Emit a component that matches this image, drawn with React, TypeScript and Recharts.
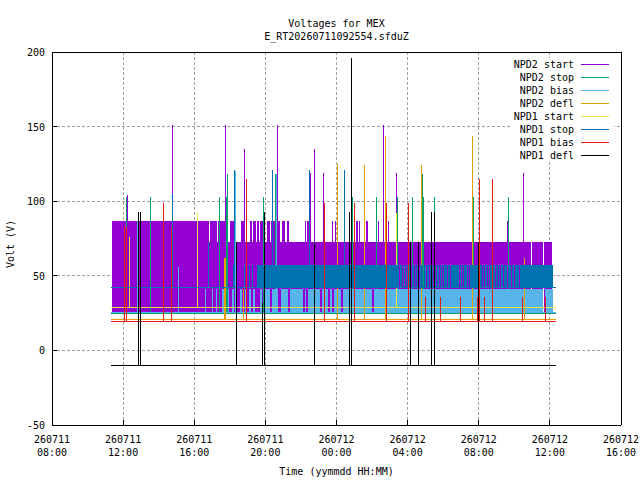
import React from "react";
import { ComposedChart, Area, XAxis, YAxis, CartesianGrid } from "recharts";

const FONT = "'DejaVu Sans Mono', 'Liberation Mono', monospace";

// time axis in hours counted from 260711 00:00
const X_TICKS = [8, 12, 16, 20, 24, 28, 32, 36, 40];
const X_TICK_DAYS = ["260711", "260711", "260711", "260711", "260712", "260712", "260712", "260712", "260712"];
const X_TICK_TIMES = ["08:00", "12:00", "16:00", "20:00", "00:00", "04:00", "08:00", "12:00", "16:00"];
const Y_TICKS = [-50, 0, 50, 100, 150, 200];

const SERIES_NAMES = ["NPD2 start", "NPD2 stop", "NPD2 bias", "NPD2 defl", "NPD1 start", "NPD1 stop", "NPD1 bias", "NPD1 defl"];
const SERIES_COLORS = ["#9400d3", "#009e73", "#56b4e9", "#e69f00", "#f0e442", "#0072b2", "#e51e10", "#000000"];

const T_START = 11.31;
const T_END = 36.34;

// NPD2 start: dense switching between 25 V and 87 / 72.5 V
const NPD2_START_BASE = 25;
const NPD2_START_HIGH = 87;
const NPD2_START_HIGH_RUNS = [
  [11.4, 16.82], [16.88, 17.27], [17.32, 17.83], [18.01, 18.34], [18.62, 18.84], [19.12, 19.24],
  [19.29, 19.46], [19.52, 19.63], [19.69, 19.86], [20.08, 20.25], [20.3, 20.81], [20.92, 21.09],
  [21.21, 21.32], [22.22, 22.28], [22.33, 22.44], [23.74, 23.79], [23.9, 23.96], [25.09, 25.2],
  [25.26, 25.31], [25.65, 25.76], [26.32, 26.38], [26.89, 26.94], [27.34, 27.39],
];
const NPD2_START_MID = 72.5;
const NPD2_START_MID_RUNS = [[16.76, 34.93], [34.99, 35.6], [35.66, 36.11]];
const NPD2_START_SPIKES = [
  [12.26, 104], [14.75, 151], [17.74, 151], [18.8, 135], [20.66, 151], [22.52, 119],
  [22.74, 135], [23.25, 119], [26.62, 151], [27.35, 119], [33.62, 87], [34.5, 119],
];

// NPD2 stop
const NPD2_STOP_BASE = 24.6;
const NPD2_STOP_SPIKES = [
  [12.21, 102.5], [13.52, 102.5], [17.4, 102.5], [17.79, 102.5], [17.85, 118], [19.87, 102.5],
  [20.55, 118], [24.88, 102.5], [26.23, 102.5], [27.41, 102.5], [28.25, 102.5], [28.82, 118],
  [28.87, 102.5], [29.49, 102.5], [31.68, 102.5], [33.68, 102.5],
];

// NPD2 bias: switching between 25.5 V and 41 V
const NPD2_BIAS_BASE = 25.2;
const NPD2_BIAS_LOW = 25.5;
const NPD2_BIAS_HIGH = 41;
const NPD2_BIAS_RUNS = [
  [16.59, 16.65], [16.99, 17.04], [17.21, 17.27], [17.55, 17.66], [17.89, 17.94], [18.12, 18.23],
  [18.56, 18.67], [18.84, 18.96], [19.07, 19.18], [19.29, 19.41], [19.69, 19.8], [19.97, 20.25],
  [20.36, 20.7], [20.87, 21.26], [21.37, 22.11], [22.22, 22.28], [22.39, 23.06], [23.17, 23.51],
  [23.62, 23.74], [23.85, 24.24], [24.36, 25.99], [26.1, 35.6], [35.72, 36.17],
];
const NPD2_BIAS_SPIKES = [[12.79, 87], [15.09, 56], [18.3, 120], [20.64, 118]];

// NPD2 defl
const NPD2_DEFL_BASE = 21;
const NPD2_DEFL_SPIKES = [
  [17.69, 62], [17.74, 62], [18.75, 41], [24.03, 125], [25.55, 124], [26.73, 144],
  [28.76, 124], [31.63, 144], [34.55, 62],
];

// NPD1 start
const NPD1_START_BASE = 28.6;
const NPD1_START_SPIKES = [[12.34, 75.7], [16.16, 92], [27.35, 92], [27.39, 92]];

// NPD1 stop: switching between 41.5 V and 57.5 V
const NPD1_STOP_BASE = 42;
const NPD1_STOP_LOW = 41.5;
const NPD1_STOP_HIGH = 57.5;
const NPD1_STOP_RUNS = [
  [18.17, 18.23], [18.79, 18.84], [19.07, 19.12], [19.24, 19.29], [19.52, 27.53], [27.59, 27.69],
  [27.74, 27.8], [27.85, 27.93], [27.98, 28.04], [28.1, 28.19], [28.25, 28.36], [28.42, 28.49],
  [28.55, 28.62], [28.67, 28.88], [28.94, 29.03], [29.09, 29.22], [29.28, 29.41], [29.46, 29.6],
  [29.65, 29.74], [29.8, 29.9], [29.95, 30.01], [30.06, 30.23], [30.29, 30.38], [30.44, 30.91],
  [30.96, 31.02], [31.08, 31.13], [31.19, 31.32], [31.37, 31.43], [31.49, 32.03], [32.09, 32.18],
  [32.24, 32.31], [32.37, 32.44], [32.5, 32.6], [32.65, 32.75], [32.8, 32.89], [32.95, 33.06],
  [33.12, 33.21], [33.27, 33.38], [33.44, 33.57], [33.62, 33.82], [33.87, 33.98], [34.04, 34.24],
  [34.3, 36.17],
];
const NPD1_STOP_SPIKES = [[14.79, 104.5], [16.78, 72.5], [18.24, 120.7], [20.38, 120.7], [22.46, 120.7], [24.43, 120.7]];

// NPD1 bias
const NPD1_BIAS_BASE = 19.7;
const NPD1_BIAS_SPIKES = [
  [12.06, 83], [12.17, 83], [14.25, 98.5], [14.7, 83], [18.92, 114.6], [23.3, 98.5],
  [24.99, 98.5], [26.79, 98.5], [28.03, 98.5], [28.98, 36], [29.83, 36], [30.95, 36],
  [31.91, 36], [32.02, 114.6], [32.3, 36], [32.75, 114.6], [34.44, 36], [35.73, 36],
];

// NPD1 defl
const NPD1_DEFL_BASE = -10;
const NPD1_DEFL_SPIKES = [
  [12.84, 93], [12.96, 93], [18.35, 72.5], [19.82, 32], [19.93, 93], [22.74, 72.5],
  [24.71, 93], [24.84, 196], [28.14, 72.5], [28.59, 72.5], [29.32, 93], [29.49, 93], [31.96, 72.5],
];

type Pt = { t: number; v: number };

function spikeSeries(start: number, end: number, base: number, spikes: number[][]): Pt[] {
  const pts: Pt[] = [{ t: start, v: base }];
  spikes.forEach(([t, peak]) => {
    pts.push({ t, v: base }, { t, v: peak }, { t, v: base });
  });
  pts.push({ t: end, v: base });
  return pts;
}

function bandSeries(lo: number, hi: number, runs: number[][]): Pt[] {
  const pts: Pt[] = [];
  runs.forEach(([a, b]) => {
    pts.push({ t: a, v: lo }, { t: a, v: hi }, { t: b, v: hi }, { t: b, v: lo });
  });
  return pts;
}

function BottomTick(props: any) {
  const { x, y, payload } = props;
  const i = X_TICKS.indexOf(payload.value);
  return (
    <g>
      <line x1={x} y1={y} x2={x} y2={y - 5} stroke="#000" />
      <text x={x} y={y + 18} textAnchor="middle" fontFamily={FONT} fontSize={10} fill="#000">
        {X_TICK_DAYS[i]}
      </text>
      <text x={x} y={y + 31} textAnchor="middle" fontFamily={FONT} fontSize={10} fill="#000">
        {X_TICK_TIMES[i]}
      </text>
    </g>
  );
}

function TopTick(props: any) {
  const { x, y } = props;
  return <line x1={x} y1={y} x2={x} y2={y + 5} stroke="#000" />;
}

function LeftTick(props: any) {
  const { x, y, payload } = props;
  return (
    <g>
      <line x1={x} y1={y} x2={x + 5} y2={y} stroke="#000" />
      <text x={x - 7} y={y + 4} textAnchor="end" fontFamily={FONT} fontSize={10} fill="#000">
        {payload.value}
      </text>
    </g>
  );
}

function RightTick(props: any) {
  const { x, y } = props;
  return <line x1={x} y1={y} x2={x - 5} y2={y} stroke="#000" />;
}

function lineArea(key: string, data: Pt[], color: string) {
  return (
    <Area
      key={key}
      data={data}
      dataKey="v"
      type="linear"
      stroke={color}
      strokeWidth={1}
      fill="none"
      dot={false}
      activeDot={false}
      isAnimationActive={false}
    />
  );
}

function bandArea(key: string, data: Pt[], base: number, color: string) {
  return (
    <Area
      key={key}
      data={data}
      dataKey="v"
      type="linear"
      baseValue={base}
      stroke="none"
      fill={color}
      fillOpacity={1}
      dot={false}
      activeDot={false}
      isAnimationActive={false}
    />
  );
}

export default function App() {
  const c = SERIES_COLORS;
  return (
    <div
      style={{
        position: "absolute",
        left: 0,
        top: 0,
        width: 640,
        height: 480,
        background: "#fff",
        shapeRendering: "crispEdges",
      }}
    >
      <ComposedChart width={640} height={480} margin={{ top: 51, right: 18, bottom: 54, left: 51 }}>
        <CartesianGrid stroke="#a0a0a0" strokeDasharray="3 2" />
        <XAxis
          dataKey="t"
          type="number"
          domain={[8, 40]}
          ticks={X_TICKS}
          interval={0}
          height={1}
          tickSize={0}
          tickMargin={0}
          tickLine={false}
          axisLine={{ stroke: "#000" }}
          tick={<BottomTick />}
        />
        <XAxis
          xAxisId="top"
          orientation="top"
          type="number"
          domain={[8, 40]}
          ticks={X_TICKS}
          interval={0}
          height={1}
          tickSize={0}
          tickMargin={0}
          tickLine={false}
          axisLine={{ stroke: "#000" }}
          tick={<TopTick />}
        />
        <YAxis
          type="number"
          domain={[-50, 200]}
          ticks={Y_TICKS}
          interval={0}
          width={1}
          tickSize={0}
          tickMargin={0}
          tickLine={false}
          axisLine={{ stroke: "#000" }}
          tick={<LeftTick />}
        />
        <YAxis
          yAxisId="right"
          orientation="right"
          type="number"
          domain={[-50, 200]}
          ticks={Y_TICKS}
          interval={0}
          width={1}
          tickSize={0}
          tickMargin={0}
          tickLine={false}
          axisLine={{ stroke: "#000" }}
          tick={<RightTick />}
        />

        {bandArea("s2start-mid", bandSeries(NPD2_START_BASE, NPD2_START_MID, NPD2_START_MID_RUNS), NPD2_START_BASE, c[0])}
        {bandArea("s2start-high", bandSeries(NPD2_START_BASE, NPD2_START_HIGH, NPD2_START_HIGH_RUNS), NPD2_START_BASE, c[0])}
        {lineArea("s2start", spikeSeries(11.4, 36.11, NPD2_START_BASE, NPD2_START_SPIKES), c[0])}
        {lineArea("s2stop", spikeSeries(T_START, T_END, NPD2_STOP_BASE, NPD2_STOP_SPIKES), c[1])}
        {bandArea("s2bias-band", bandSeries(NPD2_BIAS_LOW, NPD2_BIAS_HIGH, NPD2_BIAS_RUNS), NPD2_BIAS_LOW, c[2])}
        {lineArea("s2bias", spikeSeries(T_START, T_END, NPD2_BIAS_BASE, NPD2_BIAS_SPIKES), c[2])}
        {lineArea("s2defl", spikeSeries(T_START, T_END, NPD2_DEFL_BASE, NPD2_DEFL_SPIKES), c[3])}
        {lineArea("s1start", spikeSeries(T_START, T_END, NPD1_START_BASE, NPD1_START_SPIKES), c[4])}
        {bandArea("s1stop-band", bandSeries(NPD1_STOP_LOW, NPD1_STOP_HIGH, NPD1_STOP_RUNS), NPD1_STOP_LOW, c[5])}
        {lineArea("s1stop", spikeSeries(T_START, T_END, NPD1_STOP_BASE, NPD1_STOP_SPIKES), c[5])}
        {lineArea("s1bias", spikeSeries(T_START, T_END, NPD1_BIAS_BASE, NPD1_BIAS_SPIKES), c[6])}
        {lineArea("s1defl", spikeSeries(T_START, T_END, NPD1_DEFL_BASE, NPD1_DEFL_SPIKES), c[7])}
      </ComposedChart>

      <svg
        width={640}
        height={480}
        style={{ position: "absolute", left: 0, top: 0, pointerEvents: "none" }}
        fontFamily={FONT}
        fontSize={10}
      >
        <text x={336.5} y={26.5} textAnchor="middle">Voltages for MEX</text>
        <text x={336.5} y={40} textAnchor="middle">E_RT20260711092554.sfduZ</text>
        <text x={336.5} y={475} textAnchor="middle">Time (yymmdd HH:MM)</text>
        <text x={14} y={244} textAnchor="middle" transform="rotate(-90 14 244)">Volt (V)</text>

        <rect x={511} y={58} width={103} height={102} fill="#fff" />
        {SERIES_NAMES.map((name, i) => {
          const cy = Math.round(64 + i * 12.95) + 0.5;
          return (
            <g key={name}>
              <text x={574} y={cy + 3.5} textAnchor="end">{name}</text>
              <line x1={581} y1={cy} x2={609} y2={cy} stroke={SERIES_COLORS[i]} strokeWidth={1.2} />
            </g>
          );
        })}
      </svg>
    </div>
  );
}
